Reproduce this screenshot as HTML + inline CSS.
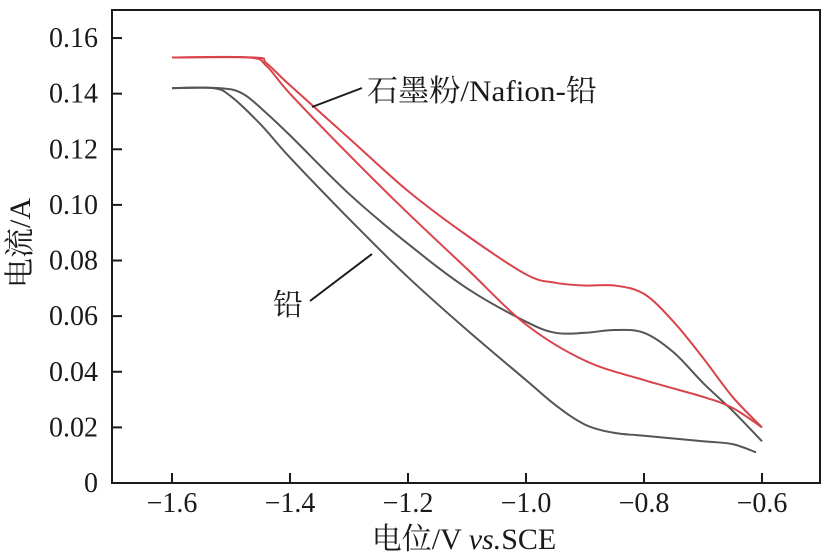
<!DOCTYPE html>
<html><head><meta charset="utf-8"><style>
body{margin:0;background:#fff}
svg text{font-family:"Liberation Serif","Noto Serif CJK SC",serif;fill:#1a1a1a}
</style></head><body>
<svg id="chart" width="828" height="554" xmlns="http://www.w3.org/2000/svg">
<rect x="112" y="10" width="708" height="473" fill="none" stroke="#1a1a1a" stroke-width="2"/>
<g id="axes"></g>
<g id="series"></g>
<line x1="312" y1="107" x2="362" y2="88" stroke="#1a1a1a" stroke-width="2"/>
<text x="367" y="101" font-size="30" textLength="230" lengthAdjust="spacingAndGlyphs">石墨粉/Nafion-铅</text>
<line x1="310" y1="301" x2="372" y2="254" stroke="#1a1a1a" stroke-width="2"/>
<text x="273" y="315" font-size="30">铅</text>
<text transform="translate(30,243) rotate(-90)" text-anchor="middle" font-size="30">电流/A</text>
<text x="464" y="549" text-anchor="middle" font-size="30">电位/V <tspan font-style="italic">vs.</tspan>SCE</text>
</svg>
<script>
const xTicks=[-1.6,-1.4,-1.2,-1.0,-0.8,-0.6];
const xTickLabels=["−1.6","−1.4","−1.2","−1.0","−0.8","−0.6"];
const yTicks=[0,0.02,0.04,0.06,0.08,0.10,0.12,0.14,0.16];
const yTickLabels=["0","0.02","0.04","0.06","0.08","0.10","0.12","0.14","0.16"];
const redUpperV=[-1.6,-1.46,-1.44,-1.4,-1.3,-1.2,-1.1,-1.0,-0.95,-0.9,-0.85,-0.8,-0.75,-0.7,-0.65,-0.6];
const redUpperI=[0.153,0.153,0.151,0.143,0.124,0.105,0.089,0.075,0.072,0.071,0.071,0.068,0.058,0.045,0.031,0.020];
const redLowerV=[-1.6,-1.47,-1.44,-1.4,-1.3,-1.2,-1.1,-1.0,-0.9,-0.8,-0.7,-0.65,-0.6];
const redLowerI=[0.153,0.153,0.150,0.140,0.118,0.097,0.077,0.057,0.044,0.037,0.031,0.027,0.020];
const grayUpperV=[-1.6,-1.52,-1.48,-1.44,-1.4,-1.3,-1.2,-1.1,-1.0,-0.95,-0.9,-0.85,-0.8,-0.75,-0.7,-0.65,-0.6];
const grayUpperI=[0.142,0.142,0.140,0.133,0.125,0.104,0.086,0.070,0.058,0.054,0.054,0.055,0.054,0.047,0.036,0.026,0.015];
const grayLowerV=[-1.6,-1.53,-1.5,-1.45,-1.4,-1.3,-1.2,-1.1,-1.0,-0.95,-0.9,-0.85,-0.8,-0.7,-0.65,-0.61];
const grayLowerI=[0.142,0.142,0.139,0.129,0.117,0.095,0.074,0.055,0.037,0.028,0.021,0.018,0.017,0.015,0.014,0.011];
const NS="http://www.w3.org/2000/svg";
const xs=v=>172+(v+1.6)*590;
const ys=i=>483-i*2781;
const axes=document.getElementById('axes');
function mk(tag,attrs,parent){const e=document.createElementNS(NS,tag);for(const k in attrs)e.setAttribute(k,attrs[k]);parent.appendChild(e);return e;}
xTicks.forEach((v,k)=>{
 const t=mk('line',{x1:xs(v),x2:xs(v),y1:483,y2:473,stroke:'#1a1a1a','stroke-width':2},axes);
 
 
 const l=mk('text',{x:xs(v),y:512,'text-anchor':'middle','font-size':28},axes);
 l.textContent=xTickLabels[k];
 
 
});
yTicks.forEach((v,k)=>{
 if(v>0){const t=mk('line',{x1:112,x2:122,y1:ys(v),y2:ys(v),stroke:'#1a1a1a','stroke-width':2},axes);
 
 }
 const l=mk('text',{x:98,y:ys(v)+9,'text-anchor':'end','font-size':28},axes);
 l.textContent=yTickLabels[k];
 
 
});
const ser=document.getElementById('series');
function line(V,I,color,name){
 const P=V.map((v,k)=>[xs(v),ys(I[k])]);
 let d='M'+P[0][0].toFixed(1)+','+P[0][1].toFixed(1);
 for(let k=0;k<P.length-1;k++){
  const p0=P[Math.max(0,k-1)],p1=P[k],p2=P[k+1],p3=P[Math.min(P.length-1,k+2)];
  const c1=[p1[0]+(p2[0]-p0[0])/6,p1[1]+(p2[1]-p0[1])/6];
  const c2=[p2[0]-(p3[0]-p1[0])/6,p2[1]-(p3[1]-p1[1])/6];
  d+='C'+c1[0].toFixed(1)+','+c1[1].toFixed(1)+' '+c2[0].toFixed(1)+','+c2[1].toFixed(1)+' '+p2[0].toFixed(1)+','+p2[1].toFixed(1);
 }
 const p=mk('path',{d:d,fill:'none',stroke:color,'stroke-width':2,'stroke-linejoin':'round'},ser);
 
 
}
line(grayUpperV,grayUpperI,'#555','lead-curve-upper');
line(grayLowerV,grayLowerI,'#555','lead-curve-lower');
line(redUpperV,redUpperI,'#d9434a','nafion-curve-upper');
line(redLowerV,redLowerI,'#d9434a','nafion-curve-lower');
</script>
</body></html>
